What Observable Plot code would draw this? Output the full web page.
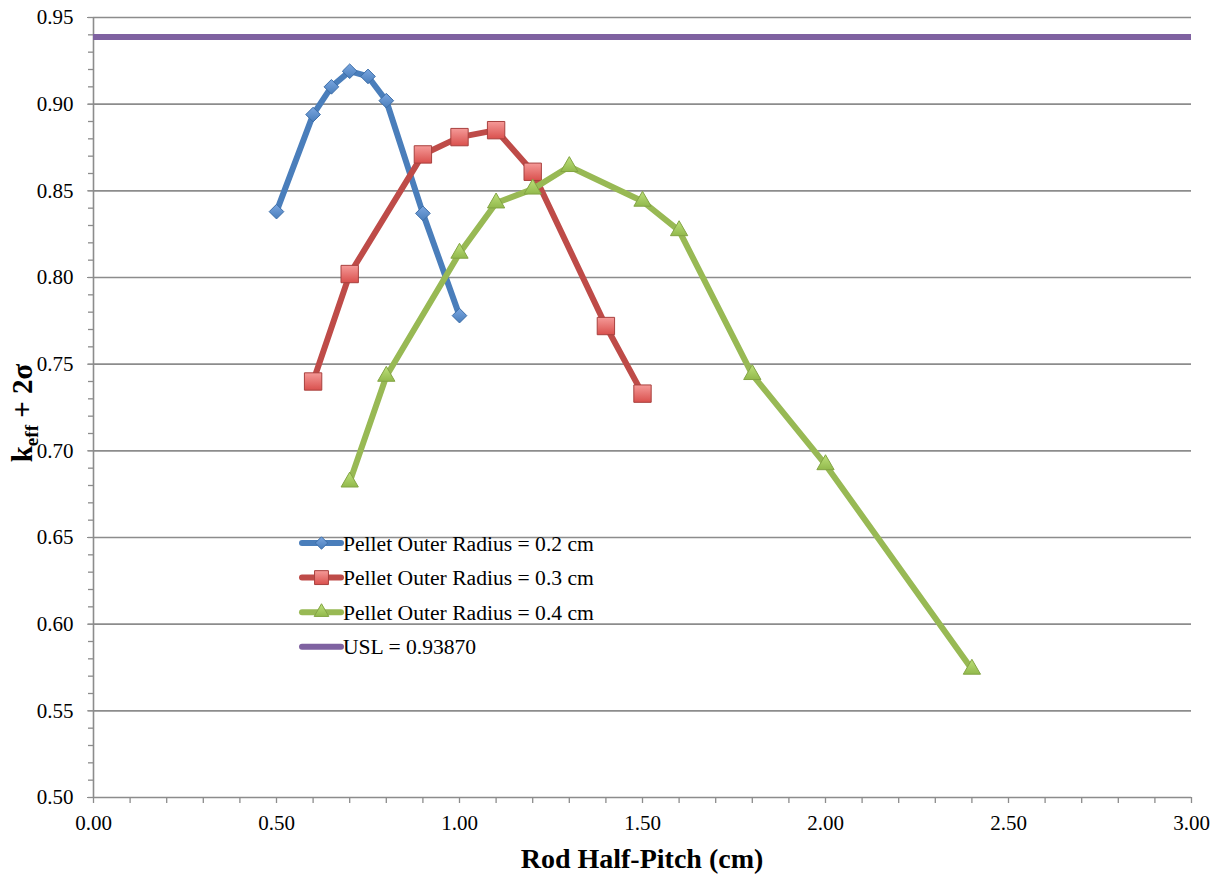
<!DOCTYPE html>
<html><head><meta charset="utf-8">
<script src="https://cdn.jsdelivr.net/npm/d3@7"></script>
<script src="https://cdn.jsdelivr.net/npm/@observablehq/plot@0.6"></script>
<style>
body{margin:0;background:#fff}
#chart svg{display:block}
#chart svg, #chart svg text{font-family:"Liberation Serif","Times New Roman",serif !important}
</style>
</head><body><div id="chart"></div>
<script>
const seriesNames = ["Pellet Outer Radius = 0.2 cm", "Pellet Outer Radius = 0.3 cm", "Pellet Outer Radius = 0.4 cm"];
const x02 = [0.5, 0.6, 0.65, 0.7, 0.75, 0.8, 0.9, 1.0];
const k02 = [0.838, 0.894, 0.910, 0.919, 0.916, 0.902, 0.837, 0.778];
const x03 = [0.6, 0.7, 0.9, 1.0, 1.1, 1.2, 1.4, 1.5];
const k03 = [0.740, 0.802, 0.871, 0.881, 0.885, 0.861, 0.772, 0.733];
const x04 = [0.7, 0.8, 1.0, 1.1, 1.2, 1.3, 1.5, 1.6, 1.8, 2.0, 2.4];
const k04 = [0.682, 0.743, 0.814, 0.843, 0.851, 0.864, 0.844, 0.827, 0.744, 0.692, 0.574];
const uslValue = 0.93870;
const uslLabel = "USL = 0.93870";
const xTicks = [0, 0.5, 1.0, 1.5, 2.0, 2.5, 3.0];
const yTicks = [0.50, 0.55, 0.60, 0.65, 0.70, 0.75, 0.80, 0.85, 0.90, 0.95];
const xMinor = d3.range(0, 31).map(i => i / 10);
const yMinor = d3.range(50, 96).map(i => i / 100);
const xTitle = "Rod Half-Pitch (cm)";

const colors = ["#4a7ebb", "#be4b48", "#98b954"];
const uslColor = "#7f62a1";
const symbols = ["diamond2", "square", "triangle"];
const radii = [6.6, 9.8, 6.4];
const fills = ["url(#gBlue)", "url(#gRed)", "url(#gGreen)"];
const strokes = ["#3d6ea8", "#a8403e", "#83a444"];

const xs = [x02, x03, x04], ks = [k02, k03, k04];
const tables = xs.map((xv, s) => xv.map((x, i) => ({x, k: ks[s][i]})));

const noText = () => "";
const marks = [
  Plot.gridY(yTicks.filter(v => v > 0.5), {stroke: "#8c8c8c", strokeOpacity: 1, strokeWidth: 1.6}),
  Plot.ruleX([0], {stroke: "#8c8c8c", strokeWidth: 1.6}),
  Plot.ruleY([0.5], {stroke: "#8c8c8c", strokeWidth: 1.6}),
  Plot.axisY(yMinor, {tickSize: 5, tickFormat: noText, stroke: "#8c8c8c", strokeWidth: 1.3, label: null}),
  Plot.axisY(yTicks, {tickSize: 6, tickPadding: 14, tickFormat: d3.format(".2f"), stroke: "#8c8c8c", fill: "#000", label: null, fontSize: 21}),
  Plot.axisX(xMinor, {tickSize: 6, tickFormat: noText, stroke: "#8c8c8c", strokeWidth: 1.3, label: null}),
  Plot.axisX(xTicks, {tickSize: 6, tickPadding: 12, tickFormat: d3.format(".2f"), stroke: "#8c8c8c", fill: "#000", label: null, fontSize: 21}),
  Plot.ruleY([uslValue], {stroke: uslColor, strokeWidth: 6})
];
tables.forEach((t, s) => {
  marks.push(Plot.line(t, {x: "x", y: "k", stroke: colors[s], strokeWidth: 6, strokeLinejoin: "round"}));
  marks.push(Plot.dot(t, {x: "x", y: "k", symbol: symbols[s], r: radii[s], fill: fills[s], stroke: strokes[s], strokeWidth: 1}));
});

const plot = Plot.plot({
  width: 1221, height: 877,
  marginLeft: 93, marginRight: 30, marginTop: 17, marginBottom: 80,
  style: {fontSize: "21px", background: "#fff", color: "#000", overflow: "visible"},
  x: {domain: [0, 3], label: null},
  y: {domain: [0.5, 0.95], label: null},
  marks
});
document.getElementById("chart").appendChild(plot);

const svg = d3.select(plot);
const defs = svg.insert("defs", ":first-child");
function grad(id, c1, c2) {
  const g = defs.append("linearGradient").attr("id", id).attr("x1", 0).attr("y1", 0).attr("x2", 0).attr("y2", 1);
  g.append("stop").attr("offset", "0%").attr("stop-color", c1);
  g.append("stop").attr("offset", "100%").attr("stop-color", c2);
}
grad("gBlue", "#7aa6e0", "#4a7ebb");
grad("gRed", "#f59a98", "#d9504d");
grad("gGreen", "#bde07a", "#92b94c");

// axis titles
svg.append("text")
  .attr("x", 642).attr("y", 868)
  .attr("text-anchor", "middle")
  .attr("font-weight", "bold").attr("font-size", 28)
  .attr("fill", "#000")
  .text(xTitle);

const yt = svg.append("text")
  .attr("transform", "translate(32,413) rotate(-90)")
  .attr("text-anchor", "middle")
  .attr("font-weight", "bold").attr("font-size", 29)
  .attr("fill", "#000");
yt.append("tspan").text("k");
yt.append("tspan").attr("font-size", 19).attr("dy", 6).text("eff");
yt.append("tspan").attr("dy", -6).text(" + 2σ");

// legend
const lg = svg.append("g").attr("font-size", 21.6).attr("fill", "#000").attr("text-anchor", "start");
const legendRows = [
  ...seriesNames.map((n, s) => ({name: n, color: colors[s], symbol: symbols[s], r: radii[s], fill: fills[s], stroke: strokes[s]})),
  {name: uslLabel, color: uslColor, symbol: null}
];
const symMap = {diamond2: d3.symbolDiamond2, square: d3.symbolSquare, triangle: d3.symbolTriangle};
legendRows.forEach((row, i) => {
  const cy = 543 + i * 34.6;
  const g = lg.append("g").attr("transform", `translate(0,${cy})`);
  g.append("line").attr("x1", 302).attr("x2", 341).attr("y1", 0).attr("y2", 0)
    .attr("stroke", row.color).attr("stroke-width", 6).attr("stroke-linecap", "round");
  if (row.symbol) {
    const sc = row.symbol === "square" ? 0.8 : 0.85;
    g.append("path").attr("transform", `translate(321.5,0)`)
      .attr("d", d3.symbol(symMap[row.symbol], Math.PI * (row.r * sc) ** 2)())
      .attr("fill", row.fill).attr("stroke", row.stroke).attr("stroke-width", 1);
  }
  g.append("text").attr("x", 343).attr("y", 0).attr("dy", "0.35em").attr("text-anchor", "start").text(row.name);
});
</script>
</body></html>
